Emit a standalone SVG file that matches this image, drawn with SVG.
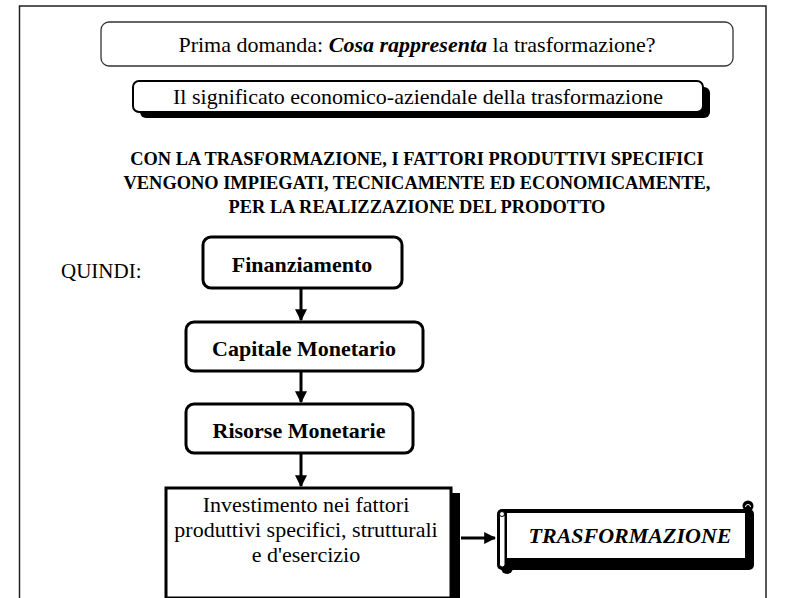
<svg xmlns="http://www.w3.org/2000/svg" width="798" height="598" viewBox="0 0 798 598">
<defs>
<style>
.t{font-family:"Liberation Serif","Times New Roman",serif;fill:#000;}
.r{font-size:22px;}
.b{font-size:22px;font-weight:bold;}
.h{font-size:18.4px;font-weight:bold;}
.box{fill:#fff;stroke:#000;stroke-width:3;}
.cn{stroke:#000;stroke-width:3;fill:none;}
</style>
<marker id="ah" markerWidth="4" markerHeight="4" refX="3.6" refY="2" orient="auto" markerUnits="strokeWidth">
<path d="M0,0 L4,2 L0,4 Z" fill="#000"/>
</marker>
</defs>
<rect width="798" height="598" fill="#fff"/>
<rect id="frame" x="19.5" y="6" width="746.5" height="700" fill="none" stroke="#222" stroke-width="1.5"/>

<g id="n-domanda">
<rect x="101" y="22" width="632" height="44" rx="8" fill="#fff" stroke="#333" stroke-width="1.3"/>
<text class="t r" x="417" y="52" text-anchor="middle">Prima domanda: <tspan font-weight="bold" font-style="italic">Cosa rappresenta</tspan> la trasformazione?</text>
</g>

<g id="n-significato">
<rect x="140" y="87" width="570" height="31" rx="6" fill="#000"/>
<rect x="133" y="81" width="570" height="31" rx="6" fill="#fff" stroke="#000" stroke-width="2"/>
<text class="t r" x="418" y="104" text-anchor="middle">Il significato economico-aziendale della trasformazione</text>
</g>

<g id="n-heading">
<text class="t h" x="417" y="165" text-anchor="middle">CON LA TRASFORMAZIONE, I FATTORI PRODUTTIVI SPECIFICI</text>
<text class="t h" x="417" y="189" text-anchor="middle">VENGONO IMPIEGATI, TECNICAMENTE ED ECONOMICAMENTE,</text>
<text class="t h" x="417" y="213" text-anchor="middle">PER LA REALIZZAZIONE DEL PRODOTTO</text>
</g>

<g id="n-quindi">
<text class="t" x="61" y="278" font-size="21">QUINDI:</text>
</g>

<g id="n-finanziamento">
<rect class="box" x="203" y="237" width="199" height="51" rx="8"/>
<text class="t b" x="302" y="272" text-anchor="middle">Finanziamento</text>
</g>

<g id="n-capitale">
<rect class="box" x="186" y="322" width="237" height="49" rx="8"/>
<text class="t b" x="304" y="356" text-anchor="middle">Capitale Monetario</text>
</g>

<g id="n-risorse">
<rect class="box" x="186" y="404" width="227" height="49" rx="8"/>
<text class="t b" x="299" y="438" text-anchor="middle">Risorse Monetarie</text>
</g>

<g id="n-investimento">
<rect x="447" y="493" width="13" height="110" fill="#000"/>
<rect class="box" x="166" y="488" width="285" height="110"/>
<text class="t r" x="306" y="512" text-anchor="middle">Investimento nei fattori</text>
<text class="t r" x="306" y="537" text-anchor="middle">produttivi specifici, strutturali</text>
<text class="t r" x="306" y="562" text-anchor="middle">e d'esercizio</text>
</g>

<g id="n-trasformazione">
<circle cx="748" cy="506" r="5.5" fill="#000"/>
<path d="M745.5,507 a2.5,2.5 0 0 1 5,0" fill="none" stroke="#fff" stroke-width="1"/>
<circle cx="507" cy="568" r="6" fill="#000"/>
<rect x="497" y="509" width="257" height="61" rx="5" fill="#000"/>
<rect x="507" y="513" width="238" height="45" fill="#fff"/>
<rect x="499.5" y="514" width="5.5" height="53" rx="2.7" fill="#fff" stroke="#000" stroke-width="1"/>
<circle cx="502" cy="514" r="2.5" fill="#fff" stroke="#000" stroke-width="1"/>
<text class="t" x="630" y="543" text-anchor="middle" font-size="22" font-weight="bold" font-style="italic">TRASFORMAZIONE</text>
</g>

<g id="connectors">
<line class="cn" x1="301" y1="288" x2="301" y2="320" marker-end="url(#ah)"/>
<line class="cn" x1="301" y1="371" x2="301" y2="402" marker-end="url(#ah)"/>
<line class="cn" x1="301" y1="453" x2="301" y2="486" marker-end="url(#ah)"/>
<line class="cn" x1="461" y1="538" x2="495" y2="538" marker-end="url(#ah)"/>
</g>
</svg>
